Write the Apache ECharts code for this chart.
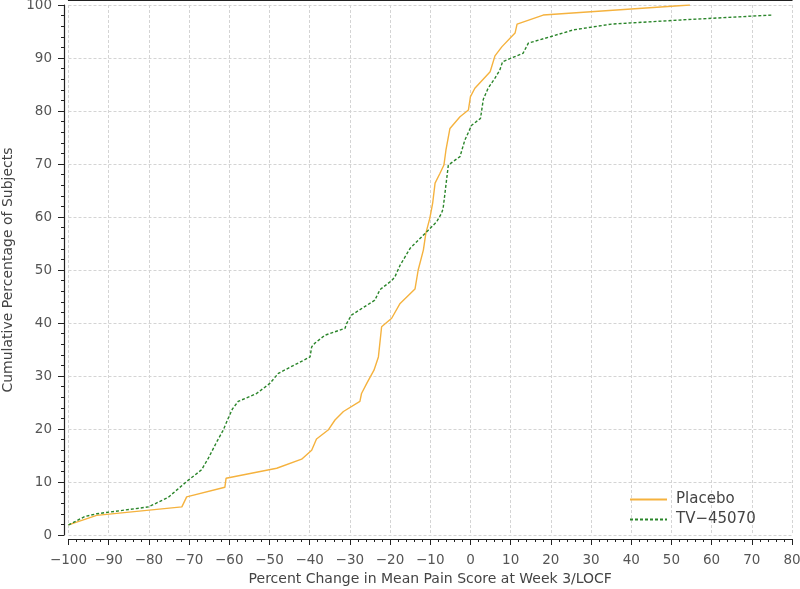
<!DOCTYPE html>
<html>
<head>
<meta charset="utf-8">
<script src="https://cdn.jsdelivr.net/npm/echarts@6/dist/echarts.min.js"></script>
<style>html,body{margin:0;padding:0;background:#fff;}#c{width:800px;height:589px;}</style>
</head>
<body>
<div id="c"></div>
<script>
const seriesNames = ['Placebo', 'TV\u221245070'];
const placeboX = [-100,-93,-71.8,-70.6,-61.1,-60.8,-48.2,-42,-39.5,-38.3,-35.4,-33.7,-31.6,-27.5,-27.1,-25.8,-24.0,-22.9,-22.1,-19.6,-17.5,-13.8,-13.0,-11.7,-11.1,-10.1,-9.4,-8.8,-7.6,-6.6,-6.1,-5.1,-2.6,-0.5,0.0,1.1,4.9,6.1,7.8,10.2,11.1,11.6,18.1,54.6];
const placeboY = [1.9,3.7,5.3,7.2,9.0,10.7,12.6,14.3,16.0,18.1,19.8,21.7,23.3,25.2,26.7,28.6,31.1,33.6,39.3,40.9,43.7,46.4,50.0,53.8,56.9,59.8,62.6,66.4,68.2,69.8,72.6,76.7,78.9,80.2,82.7,84.3,87.4,90.4,92.1,94.0,94.7,96.4,98.1,100];
const tvX = [-100,-95.9,-93,-80.1,-75.2,-70.6,-66.9,-65.2,-63.1,-61.5,-60.0,-59.2,-57.8,-53.2,-49.9,-47.8,-39.9,-39.5,-38.7,-36.2,-31.2,-30.8,-29.6,-23.8,-22.5,-19.6,-18.8,-17.5,-15,-10.5,-8.4,-7.2,-6.8,-5.5,-2.6,-1.4,0.3,2.5,3.2,4.4,6.1,7.3,8.0,13.1,14.4,19.8,25.6,35.1,52.9,74.9];
const tvY = [1.9,3.5,4.0,5.3,7.1,10.1,12.3,14.5,17.6,19.8,22.5,23.8,25.2,26.7,28.6,30.5,33.6,35.5,36.2,37.7,39.0,39.9,41.5,44.3,46.3,48.0,48.7,50.9,54.1,57.5,59.1,60.7,61.6,69.8,71.4,74.5,77.3,78.6,82.2,84.3,86.2,87.7,89.3,90.9,92.8,94.0,95.3,96.4,97.2,98.1];
const xTicks = {min: -100, max: 80, step: 10};
const yTicks = {min: 0, max: 100, step: 10};
const xTitle = 'Percent Change in Mean Pain Score at Week 3/LOCF';
const yTitle = 'Cumulative Percentage of Subjects';

const zip = (a, b) => a.map((v, i) => [v, b[i]]);
const fmt = v => String(v).replace('-', '\u2212');
const font = 'DejaVu Sans';
const labelColor = '#555';

const chart = echarts.init(document.getElementById('c'), null, {renderer: 'canvas'});
chart.setOption({
  animation: false,
  backgroundColor: '#fff',
  textStyle: {fontFamily: font},
  grid: {left: 68.5, right: 8, top: 5, bottom: 54, containLabel: false, outerBoundsMode: 'none'},
  legend: {
    orient: 'vertical', left: 624, top: 487,
    itemWidth: 37, itemHeight: 10, itemGap: 5,
    itemStyle: {opacity: 0},
    textStyle: {fontFamily: font, fontSize: 15, color: '#444', padding: [0, 0, 0, 4]},
    data: seriesNames
  },
  xAxis: [{
    type: 'value', min: xTicks.min, max: xTicks.max, interval: xTicks.step,
    position: 'bottom', offset: 4,
    axisLine: {show: true, onZero: false, lineStyle: {color: '#222', width: 1.2}},
    axisTick: {show: true, length: 6, lineStyle: {color: '#222'}},
    minorTick: {show: true, splitNumber: 5, length: 3, lineStyle: {color: '#222'}},
    axisLabel: {color: labelColor, fontSize: 13.5, margin: 14, formatter: fmt, fontFamily: font},
    splitLine: {show: true, lineStyle: {color: '#d4d4d4', type: [3, 2], width: 1}},
    name: xTitle, nameLocation: 'middle', nameGap: 32,
    nameTextStyle: {color: '#444', fontSize: 14, fontFamily: font}
  }, {
    type: 'value', min: xTicks.min, max: xTicks.max, interval: xTicks.step,
    position: 'top', offset: 5,
    axisLine: {show: true, onZero: false, lineStyle: {color: '#222', width: 1.2}},
    axisTick: {show: false}, axisLabel: {show: false}, splitLine: {show: false}
  }],
  yAxis: {
    type: 'value', min: yTicks.min, max: yTicks.max, interval: yTicks.step,
    offset: 4.5,
    axisLine: {show: true, onZero: false, lineStyle: {color: '#222', width: 1.2}},
    axisTick: {show: true, length: 6, lineStyle: {color: '#222'}},
    minorTick: {show: true, splitNumber: 5, length: 3, lineStyle: {color: '#222'}},
    axisLabel: {color: labelColor, fontSize: 13.5, margin: 12, formatter: fmt, fontFamily: font},
    splitLine: {show: true, lineStyle: {color: '#d4d4d4', type: [3, 2], width: 1}},
    name: yTitle, nameLocation: 'middle', nameGap: 49,
    nameTextStyle: {color: '#444', fontSize: 14, fontFamily: font}
  },
  series: [{
    name: seriesNames[0], type: 'line', xAxisIndex: 0, symbol: 'none',
    data: zip(placeboX, placeboY),
    lineStyle: {color: '#f5b23e', width: 1.4},
    itemStyle: {color: '#f5b23e'}
  }, {
    name: seriesNames[1], type: 'line', xAxisIndex: 0, symbol: 'none',
    data: zip(tvX, tvY),
    lineStyle: {color: '#2a852a', width: 1.4, type: [3, 2]},
    itemStyle: {color: '#2a852a'}
  }]
});
</script>
</body>
</html>
